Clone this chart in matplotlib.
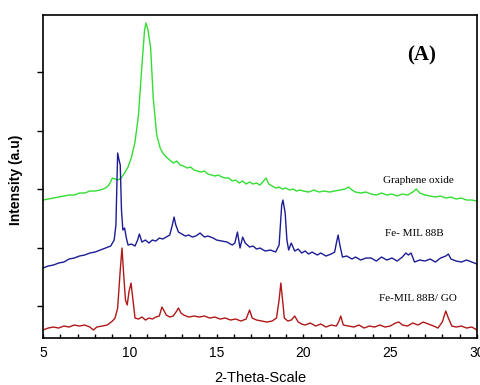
import numpy as np
import matplotlib.pyplot as plt

# XRD patterns, 2-theta (deg) vs intensity (a.u.)
go_theta = [5.0, 5.3, 5.6, 5.9, 6.2, 6.5, 6.8, 7.1, 7.4, 7.7, 8.0, 8.3, 8.6, 8.8, 9.0, 9.15, 9.3, 9.5,
            9.7, 9.9, 10.1, 10.3, 10.5, 10.7, 10.85, 10.93, 11.05, 11.2, 11.35, 11.55, 11.75, 11.9,
            12.1, 12.3, 12.5, 12.7, 12.9, 13.1, 13.3, 13.5, 13.7, 13.9, 14.1, 14.3, 14.5, 14.7, 14.9,
            15.1, 15.3, 15.5, 15.7, 15.9, 16.1, 16.3, 16.5, 16.7, 16.9, 17.1, 17.3, 17.5, 17.7, 17.85,
            18.0, 18.2, 18.4, 18.6, 18.8, 19.0, 19.2, 19.4, 19.6, 19.8, 20.0, 20.3, 20.6, 20.9, 21.2,
            21.5, 21.8, 22.1, 22.4, 22.6, 22.8, 23.0, 23.3, 23.6, 23.9, 24.2, 24.5, 24.8, 25.1, 25.4,
            25.7, 26.0, 26.3, 26.5, 26.7, 27.0, 27.3, 27.6, 27.9, 28.2, 28.5, 28.8, 29.1, 29.4, 29.7, 30.0]
go_int = [138, 139, 140, 141, 142, 143, 143, 145, 145, 147, 147, 148, 150, 153, 160, 159, 158, 160,
          165, 171, 181, 196, 223, 273, 308, 315, 308, 290, 240, 203, 190, 185,
          181, 178, 175, 177, 173, 172, 170, 171, 168, 167, 166, 167, 164, 163, 162,
          163, 161, 160, 160, 157, 158, 155, 157, 154, 156, 154, 155, 153, 157, 160,
          154, 152, 150, 151, 149, 150, 148, 149, 147, 148, 147, 146, 148, 146, 147,
          146, 147, 148, 149, 151, 148, 146, 145, 146, 144, 143, 145, 143, 144, 142,
          144, 143, 146, 149, 145, 143, 142, 141, 142, 140, 141, 139, 140, 138, 138, 137]

mil_theta = [5.0, 5.3, 5.6, 5.9, 6.2, 6.5, 6.8, 7.1, 7.4, 7.7, 8.0, 8.3, 8.6, 8.9, 9.1, 9.2, 9.3, 9.38,
             9.45, 9.52, 9.6, 9.7, 9.8, 9.9, 10.1, 10.3, 10.45, 10.55, 10.7, 10.9, 11.1, 11.3, 11.5,
             11.7, 11.9, 12.1, 12.3, 12.45, 12.55, 12.65, 12.8, 13.0, 13.2, 13.4, 13.6, 13.8, 14.05,
             14.3, 14.5, 14.8, 15.0, 15.3, 15.6, 15.9, 16.05, 16.2, 16.35, 16.5, 16.65, 16.9, 17.1,
             17.3, 17.5, 17.8, 18.1, 18.4, 18.6, 18.75, 18.82, 18.95, 19.05, 19.15, 19.3, 19.5, 19.7,
             19.9, 20.1, 20.3, 20.5, 20.8, 21.0, 21.3, 21.6, 21.8, 21.9, 22.0, 22.1, 22.25, 22.5, 22.8,
             23.0, 23.3, 23.6, 23.9, 24.2, 24.5, 24.8, 25.1, 25.4, 25.7, 25.9, 26.05, 26.2, 26.4, 26.7,
             27.0, 27.3, 27.6, 27.9, 28.2, 28.35, 28.5, 28.8, 29.1, 29.4, 29.7, 30.0]
mil_int = [70, 72, 73, 75, 76, 79, 80, 82, 83, 85, 86, 88, 90, 92, 98, 113, 185, 178,
           173, 128, 108, 110, 100, 93, 94, 92, 98, 104, 96, 98, 95, 98, 97,
           100, 99, 101, 103, 113, 121, 113, 106, 104, 102, 103, 101, 102, 105,
           101, 102, 100, 98, 97, 96, 93, 95, 106, 90, 101, 95, 91, 92,
           89, 90, 87, 88, 86, 93, 133, 138, 125, 98, 88, 95, 87, 89,
           85, 87, 84, 86, 83, 85, 82, 84, 86, 95, 103, 93, 81, 82, 79,
           81, 78, 80, 80, 77, 81, 78, 80, 77, 81, 85, 83, 85, 76, 78,
           77, 79, 76, 80, 82, 84, 79, 77, 76, 78, 76, 74]

comp_theta = [5.0, 5.3, 5.6, 5.9, 6.2, 6.5, 6.8, 7.1, 7.4, 7.7, 7.9, 8.1, 8.4, 8.7, 9.0, 9.15, 9.3,
              9.45, 9.55, 9.65, 9.75, 9.85, 9.95, 10.07, 10.17, 10.3, 10.5, 10.7, 10.9, 11.1, 11.3,
              11.5, 11.7, 11.85, 11.95, 12.1, 12.3, 12.5, 12.7, 12.8, 12.95, 13.1, 13.4, 13.7, 14.0,
              14.3, 14.6, 14.9, 15.2, 15.5, 15.8, 16.1, 16.4, 16.7, 16.9, 17.05, 17.3, 17.6, 17.9,
              18.2, 18.45, 18.6, 18.7, 18.8, 18.9, 19.1, 19.3, 19.5, 19.7, 19.9, 20.1, 20.4, 20.7,
              21.0, 21.3, 21.6, 21.9, 22.05, 22.15, 22.3, 22.6, 22.9, 23.2, 23.5, 23.8, 24.1, 24.4,
              24.7, 25.0, 25.3, 25.5, 25.7, 26.0, 26.3, 26.6, 26.9, 27.2, 27.5, 27.75, 28.0, 28.2,
              28.35, 28.55, 28.8, 29.1, 29.4, 29.7, 30.0]
comp_int = [8, 10, 11, 10, 12, 11, 13, 12, 13, 11, 8, 11, 12, 13, 17, 20, 30,
            68, 90, 63, 38, 33, 46, 55, 40, 20, 19, 21, 18, 20, 19,
            21, 22, 31, 28, 23, 21, 22, 27, 30, 25, 23, 21, 22, 21,
            22, 20, 21, 19, 20, 18, 19, 17, 19, 28, 20, 18, 17, 16,
            17, 20, 38, 55, 38, 20, 17, 18, 22, 16, 14, 13, 15, 12,
            14, 11, 13, 12, 17, 22, 13, 12, 11, 13, 10, 12, 11, 13,
            11, 12, 15, 16, 13, 12, 15, 13, 16, 14, 12, 10, 16, 27,
            20, 12, 11, 12, 10, 11, 8]

fig = plt.figure(figsize=(4.81, 3.85), dpi=100)
ax = fig.add_axes([0.0894, 0.122, 0.9023, 0.839])

ax.plot(go_theta, go_int, color='#33dd33', lw=1.0)
ax.plot(mil_theta, mil_int, color='#1c1c96', lw=1.0)
ax.plot(comp_theta, comp_int, color='#b01818', lw=1.0)

ax.set_xlim(5, 30)
ax.set_ylim(0, 323)
ax.set_xticks(np.arange(5, 31, 5))
ax.set_xticks(np.arange(5, 31, 1), minor=True)
ax.set_yticks(np.arange(32, 300, 58.5))
ax.set_yticklabels([])
ax.tick_params(axis='x', direction='in', length=3, width=1, labelsize=10, pad=6)
ax.tick_params(axis='x', which='minor', direction='in', length=3, width=1)
ax.tick_params(axis='y', direction='out', length=4, width=1)
for lab in ax.get_xticklabels():
    lab.set_family('Liberation Sans')

for s in ax.spines.values():
    s.set_linewidth(1.2)

ax.set_xlabel('2-Theta-Scale', family='Liberation Sans', fontsize=10.5, labelpad=8)
ax.set_ylabel('Intensity (a.u)', family='Liberation Sans', fontsize=10, fontweight='bold')
ax.yaxis.set_label_coords(-0.046, 0.49)

ax.text(26.8, 283, '(A)', family='Liberation Serif', fontweight='bold', fontsize=15, ha='center', va='center')
ax.text(26.6, 158, 'Graphene oxide', family='Liberation Serif', fontsize=8, ha='center', va='center')
ax.text(26.4, 105, 'Fe- MIL 88B', family='Liberation Serif', fontsize=8, ha='center', va='center')
ax.text(26.6, 40, 'Fe-MIL 88B/ GO', family='Liberation Serif', fontsize=8, ha='center', va='center')

fig.savefig('out.png', dpi=100)
